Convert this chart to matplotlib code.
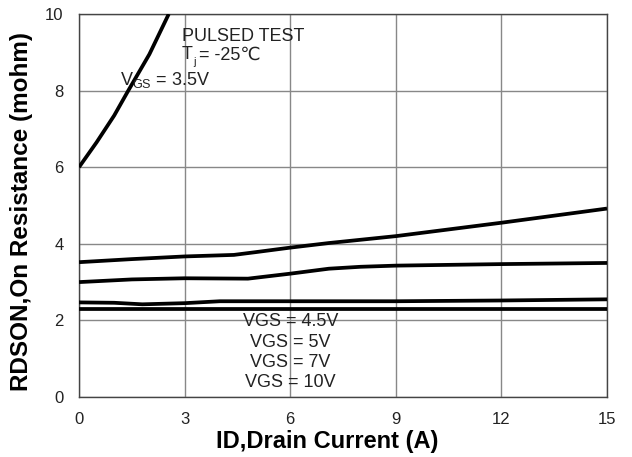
import matplotlib
matplotlib.use("Agg")
import matplotlib.pyplot as plt

plt.rcParams['font.family'] = ['Liberation Sans', 'DejaVu Sans']

# VGS = 3.5V
id_35 = [0, 0.5, 1.0, 1.4, 2.0, 2.55]
r_35 = [6.0, 6.65, 7.35, 8.0, 8.95, 10.0]

# VGS = 4.5V
id_45 = [0, 1.5, 3.0, 4.4, 5.0, 6.0, 7.1, 9.0, 12.0, 15.0]
r_45 = [3.52, 3.6, 3.67, 3.71, 3.78, 3.9, 4.02, 4.2, 4.55, 4.92]

# VGS = 5V
id_5 = [0, 1.5, 3.0, 4.8, 6.0, 7.1, 8.0, 9.0, 12.0, 15.0]
r_5 = [3.0, 3.07, 3.1, 3.09, 3.22, 3.35, 3.4, 3.43, 3.47, 3.5]

# VGS = 7V
id_7 = [0, 1.0, 1.8, 3.0, 4.0, 6.0, 9.0, 12.0, 15.0]
r_7 = [2.47, 2.46, 2.42, 2.45, 2.5, 2.5, 2.5, 2.52, 2.55]

# VGS = 10V
id_10 = [0, 3.0, 6.0, 9.0, 12.0, 15.0]
r_10 = [2.3, 2.3, 2.3, 2.3, 2.3, 2.3]

x_ticks = [0, 3, 6, 9, 12, 15]
y_ticks = [0, 2, 4, 6, 8, 10]
vgs_labels = ["VGS = 4.5V", "VGS = 5V", "VGS = 7V", "VGS = 10V"]

fig = plt.figure(figsize=(6.32, 4.57), dpi=100)
ax = fig.add_axes([79/632, 1 - 397/457, (607-79)/632, (397-14)/457])

for xs, ys in [(id_35, r_35), (id_45, r_45), (id_5, r_5), (id_7, r_7), (id_10, r_10)]:
    ax.plot(xs, ys, color='black', lw=2.7, solid_capstyle='butt', zorder=3)

ax.set_xlim(0, 15)
ax.set_ylim(0, 10)
ax.set_xticks(x_ticks)
ax.set_yticks(y_ticks)
ax.grid(True, color='#888888', lw=1.0)
ax.tick_params(length=0, labelsize=12, colors='#222222')
ax.tick_params(axis='x', pad=11)
ax.tick_params(axis='y', pad=11)
for s in ax.spines.values():
    s.set_color('#444444')
    s.set_linewidth(1.0)

ax.set_xlabel("ID,Drain Current (A)", fontsize=17, fontweight='bold')
ax.set_ylabel("RDSON,On Resistance (mohm)", fontsize=17.5, fontweight='bold')
ax.xaxis.set_label_coords(0.47, -0.086)
ax.yaxis.set_label_coords(-0.087, 0.484)

tc = '#222222'
fs = 13
ax.text(2.92, 9.42, "PULSED TEST", fontsize=fs, ha='left', va='center', color=tc)
t1 = ax.text(2.92, 8.93, "T", fontsize=fs, ha='left', va='center', color=tc)
t2 = ax.annotate("j", xy=(1, 0.1), xycoords=t1, xytext=(0.3, 0), textcoords='offset points',
                 fontsize=8, ha='left', va='center', color=tc)
ax.annotate("= -25℃", xy=(1, 0.5), xycoords=t1, xytext=(4.5, 0), textcoords='offset points',
            fontsize=fs, ha='left', va='center', color=tc)
ax.text(1.16, 8.28, r"V$_\mathregular{GS}$ = 3.5V", fontsize=fs, ha='left', va='center', color=tc)

for i, lab in enumerate(vgs_labels):
    ax.text(6.0, 1.96 - i * 0.525, lab, fontsize=fs, ha='center', va='center', color=tc)

fig.savefig("out.png", dpi=100)
